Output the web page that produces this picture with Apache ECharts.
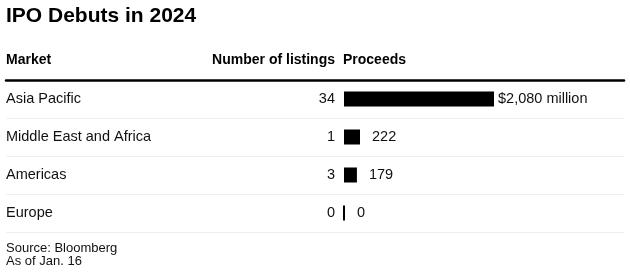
<!DOCTYPE html>
<html>
<head>
<meta charset="utf-8">
<script src="https://cdn.jsdelivr.net/npm/echarts@6/dist/echarts.min.js"></script>
<style>
html,body{margin:0;padding:0;background:#fff;}
#c{width:630px;height:277px;}
</style>
</head>
<body>
<div id="c"></div>
<script>
// ---- data ----
const markets = ['Asia Pacific', 'Middle East and Africa', 'Americas', 'Europe'];
const listings = [34, 1, 3, 0];
const proceeds = [2080, 222, 179, 0]; // US$ million

const titleText = 'IPO Debuts in 2024';
const headers = ['Market', 'Number of listings', 'Proceeds'];
const footerLines = ['Source: Bloomberg', 'As of Jan. 16'];

// ---- chart ----
const FONT = "'Liberation Sans', Arial, Helvetica, sans-serif";
const chart = echarts.init(document.getElementById('c'), null, {renderer: 'canvas'});

const fmt = v => v.toLocaleString('en-US');

chart.setOption({
  animation: false,
  backgroundColor: '#fff',
  grid: [
    {left: 6, right: 6, top: 80, height: 152},
    {left: 344, width: 150, top: 80, height: 152}
  ],
  xAxis: [
    {
      gridIndex: 0, type: 'value', position: 'top', min: 0, max: 1,
      axisLine: {show: true, onZero: false, lineStyle: {color: '#000', width: 2.5}},
      axisTick: {show: false}, axisLabel: {show: false}, splitLine: {show: false}
    },
    {
      gridIndex: 1, type: 'value', min: 0, max: proceeds[0], show: false,
      splitLine: {show: false}
    }
  ],
  yAxis: [
    {
      gridIndex: 0, type: 'category', inverse: true, data: markets,
      axisLine: {show: false}, axisTick: {show: false},
      splitLine: {show: true, lineStyle: {color: '#efefef', width: 1}},
      axisLabel: {inside: true, margin: 0, align: 'left', color: '#111',
                  fontFamily: FONT, fontSize: 14.5, padding: [2, 0, 0, 0]}
    },
    {
      gridIndex: 1, type: 'category', inverse: true, data: listings.map(String),
      axisLine: {show: false}, axisTick: {show: false}, splitLine: {show: false},
      axisLabel: {margin: 9, color: '#111', fontFamily: FONT, fontSize: 14.5, padding: [2, 0, 0, 0]}
    }
  ],
  series: [{
    type: 'bar',
    xAxisIndex: 1, yAxisIndex: 1,
    barWidth: 15,
    itemStyle: {color: '#000', borderColor: '#000', borderWidth: 2},
    data: proceeds.map((v, i) => ({value: v, label: {distance: i === 0 ? 4 : 12}})),
    label: {
      show: true, position: 'right', color: '#111',
      fontFamily: FONT, fontSize: 14.5, padding: [2, 0, 0, 0],
      formatter: p => p.dataIndex === 0 ? '$' + fmt(p.value) + ' million' : fmt(p.value)
    }
  }],
  graphic: [
    {type: 'text', x: 6, y: 16, style: {text: titleText, font: 'bold 21px ' + FONT,
      fill: '#000', align: 'left', verticalAlign: 'middle'}},
    {type: 'text', x: 6, y: 60, style: {text: headers[0], font: 'bold 14px ' + FONT,
      fill: '#000', align: 'left', verticalAlign: 'middle'}},
    {type: 'text', x: 335, y: 60, style: {text: headers[1], font: 'bold 14px ' + FONT,
      fill: '#000', align: 'right', verticalAlign: 'middle'}},
    {type: 'text', x: 343, y: 60, style: {text: headers[2], font: 'bold 14px ' + FONT,
      fill: '#000', align: 'left', verticalAlign: 'middle'}},
    {type: 'text', x: 6, y: 248, style: {text: footerLines[0], font: '13px ' + FONT,
      fill: '#111', align: 'left', verticalAlign: 'middle'}},
    {type: 'text', x: 6, y: 261.5, style: {text: footerLines[1], font: '13px ' + FONT,
      fill: '#111', align: 'left', verticalAlign: 'middle'}}
  ]
});
</script>
</body>
</html>
